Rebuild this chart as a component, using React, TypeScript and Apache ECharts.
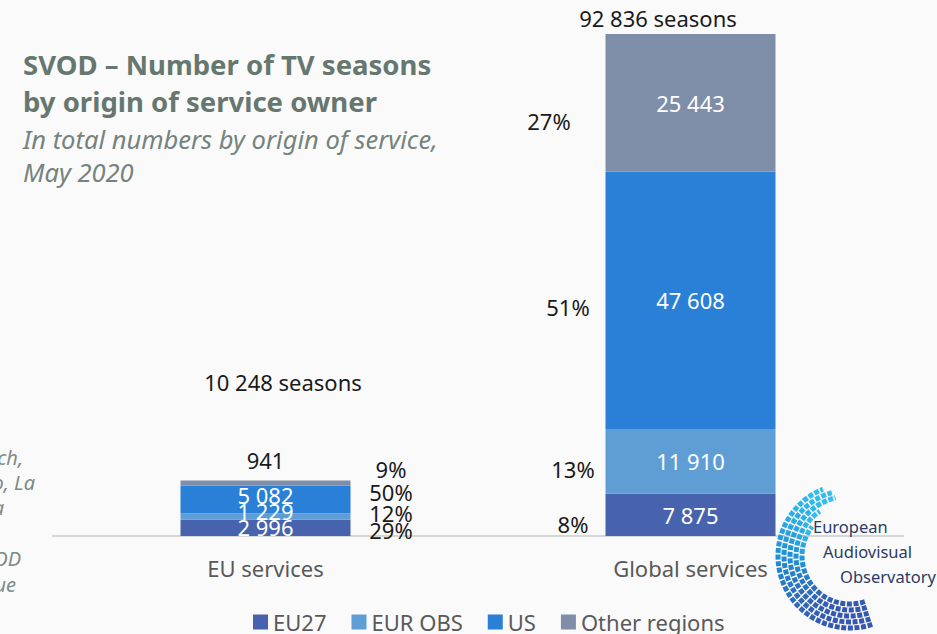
import React, { useEffect, useRef } from "react";
import * as echarts from "echarts";

const categories = ["EU services", "Global services"];
const seriesNames = ["EU27", "EUR OBS", "US", "Other regions"];
const eu27 = [2996, 7875];
const eurObs = [1229, 11910];
const us = [5082, 47608];
const otherRegions = [941, 25443];
const seriesColors = ["#4863ad", "#5f9ed4", "#2a7fd6", "#7f8ea8"];

const titleLines = ["SVOD – Number of TV seasons", "by origin of service owner"];
const subtitleLines = ["In total numbers by origin of service,", "May 2020"];
const sourceLines = [
  "Source: European Audiovisual Observatory, based on JustWatch,",
  "Netflix, Amazon Prime Video, Disney+, Rakuten TV, Pluto, La",
  "Cinetek, Mubi, Universciné, FilmoTV and Sooner Europa",
  "Note: one TV season counted once per SVOD",
  "service; duplicates across countries in the catalogue",
];
const logoLines = ["European", "Audiovisual", "Observatory"];

const FONT = "'Noto Sans', 'Open Sans', sans-serif";

const fmt = (n: number) => String(n).replace(/\B(?=(\d{3})+(?!\d))/g, " ");

export default function App() {
  const ref = useRef<HTMLDivElement>(null);
  useEffect(() => {
    if (!ref.current) return;
    const chart = echarts.init(ref.current, undefined, { renderer: "svg" });
    const all = [eu27, eurObs, us, otherRegions];
    const totals = categories.map((_, i) => all.reduce((s, a) => s + a[i], 0));
    const pct = (v: number, i: number) => Math.round((v / totals[i]) * 100) + "%";

    // percent label positions (layout only)
    const pctPos = [
      [[391, 530], [391, 513], [391, 492], [391, 469]],
      [[573, 524], [573, 469], [568, 307], [549, 121]],
    ];
    const insideOffsets = [
      [[0, -1], [0, -5], [0, -4], [0, 0]],
      [[0, 0], [0, 0], [0, 0], [0, 0]],
    ];
    const totalPos = [[283, 382], [658, 18]];

    const text = (x: number, y: number, t: string, o: any = {}) => ({
      type: "text",
      x,
      y,
      z: 100,
      silent: true,
      style: {
        text: t,
        fontFamily: FONT,
        fontSize: 22,
        fill: "#1a1a1a",
        align: o.align || "center",
        textAlign: o.align || "center",
        verticalAlign: "middle",
        textVerticalAlign: "middle",
        ...o.style,
      },
    });

    const graphics: any[] = [];
    titleLines.forEach((t, i) =>
      graphics.push(
        text(23, 64 + i * 37, t, {
          align: "left",
          style: { fontSize: 27.5, fontWeight: "bold", fill: "#66776f" },
        })
      )
    );
    subtitleLines.forEach((t, i) =>
      graphics.push(
        text(23, 139 + i * 33, t, {
          align: "left",
          style: { fontSize: 25.5, fontStyle: "italic", fill: "#75837d" },
        })
      )
    );
    const srcPos = [[23, 457], [35, 482], [4, 507], [21, 558], [16, 584]];
    sourceLines.forEach((t, i) =>
      graphics.push(
        text(srcPos[i][0], srcPos[i][1], t, {
          align: "right",
          style: { fontSize: 20, fontStyle: "italic", fill: "#7d8a85" },
        })
      )
    );
    categories.forEach((_, ci) => {
      graphics.push(text(totalPos[ci][0], totalPos[ci][1], fmt(totals[ci]) + " seasons"));
      all.forEach((arr, si) => {
        graphics.push(text(pctPos[ci][si][0], pctPos[ci][si][1], pct(arr[ci], ci)));
      });
    });
    // logo swirl
    const rings = [
      { r: 48, end: 218 },
      { r: 54, end: 236 },
      { r: 60, end: 256 },
      { r: 66, end: 254 },
      { r: 72, end: 248 },
    ];
    rings.forEach((rg) => {
      graphics.push({
        type: "arc",
        silent: true,
        z: 50,
        shape: {
          cx: 850,
          cy: 556,
          r: rg.r,
          startAngle: (72 * Math.PI) / 180,
          endAngle: (rg.end * Math.PI) / 180,
          clockwise: true,
        },
        style: {
          stroke: new echarts.graphic.LinearGradient(0, 0, 0, 1, [
            { offset: 0, color: "#35bff0" },
            { offset: 0.45, color: "#1e93da" },
            { offset: 1, color: "#3457b0" },
          ]),
          lineWidth: 5,
          fill: "none",
          lineDash: [5, 1.6],
        },
      });
    });
    const logoPos = [[813, 526], [823, 551], [840, 576]];
    logoLines.forEach((t, i) =>
      graphics.push(
        text(logoPos[i][0], logoPos[i][1], t, {
          align: "left",
          style: { fontSize: 16.5, fill: "#2b3a63" },
        })
      )
    );

    const series = all.map((arr, si) => ({
      name: seriesNames[si],
      type: "bar",
      stack: "total",
      barWidth: 170,
      itemStyle: { color: seriesColors[si] },
      label: {
        show: true,
        position: "inside",
        color: "#ffffff",
        fontSize: 22,
        fontFamily: FONT,
        formatter: (p: any) => fmt(p.value),
      },
      data: arr.map((v, ci) => {
        const item: any = { value: v };
        if (si === 3 && ci === 0) {
          item.label = { position: "top", distance: 10, color: "#1a1a1a" };
        } else {
          item.label = { offset: insideOffsets[ci][si] };
        }
        return item;
      }),
    }));

    chart.setOption({
      animation: false,
      backgroundColor: "#fafafa",
      grid: { left: 53, right: 34, top: 34, bottom: 98 },
      xAxis: {
        type: "category",
        data: categories,
        axisLine: { lineStyle: { color: "#d6d6d6", width: 2 } },
        axisTick: { show: false },
        axisLabel: { fontSize: 22, color: "#595959", margin: 21, fontFamily: FONT },
      },
      yAxis: {
        type: "value",
        min: 0,
        max: Math.max(...totals),
        show: false,
        splitLine: { show: false },
      },
      legend: {
        data: seriesNames,
        left: 248,
        top: 606,
        icon: "rect",
        itemWidth: 15,
        itemHeight: 15,
        itemGap: 25,
        textStyle: { fontSize: 22, color: "#595959", fontFamily: FONT },
      },
      series,
      graphic: graphics,
    });
    return () => chart.dispose();
  }, []);
  return (
    <div
      ref={ref}
      style={{ position: "absolute", left: 0, top: 0, width: 937, height: 634 }}
    />
  );
}
